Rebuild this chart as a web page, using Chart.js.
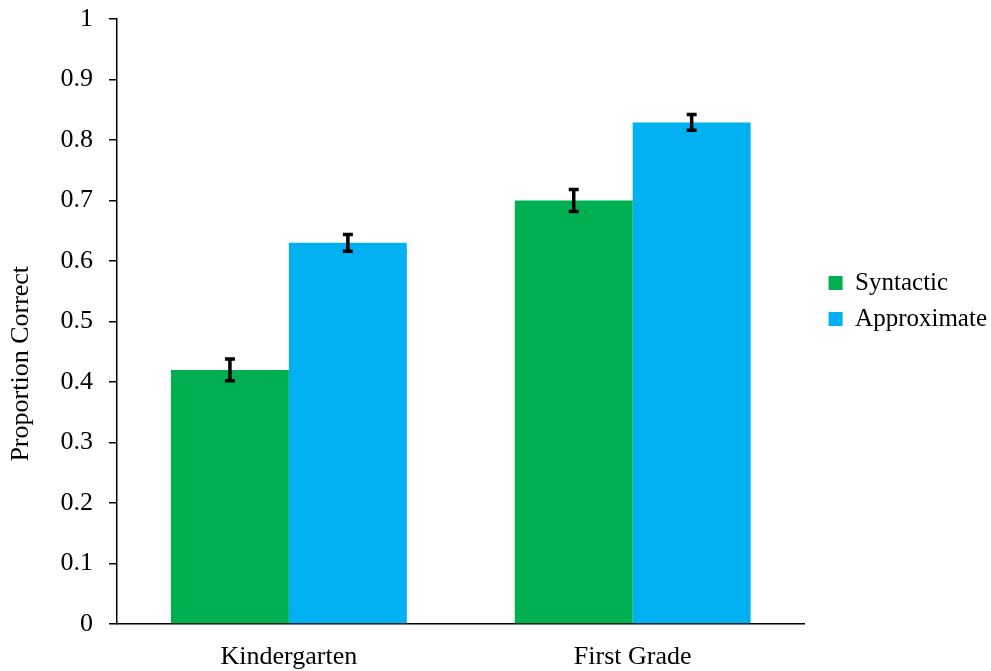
<!DOCTYPE html>
<html>
<head>
<meta charset="utf-8">
<title>Proportion Correct</title>
<script src="https://cdn.jsdelivr.net/npm/chart.js@4"></script>
<style>
  html, body { margin: 0; padding: 0; background: #fff; }
  #wrap { width: 991px; height: 671px; }
</style>
</head>
<body>
<div id="wrap"><canvas id="myChart" width="991" height="671"></canvas></div>
<script>
// data
const grades = ['Kindergarten', 'First Grade'];
const syntactic = [0.42, 0.70];
const syntacticErr = [0.018, 0.018];
const approximate = [0.63, 0.829];
const approximateErr = [0.014, 0.013];
const yTicks = [0, 0.1, 0.2, 0.3, 0.4, 0.5, 0.6, 0.7, 0.8, 0.9, 1];

const serif = "'Liberation Serif', 'Times New Roman', serif";

// error bars drawn on top of each bar
const errorBars = {
  id: 'errorBars',
  afterDatasetsDraw(chart) {
    const ctx = chart.ctx;
    const y = chart.scales.y;
    chart.data.datasets.forEach((ds, i) => {
      const meta = chart.getDatasetMeta(i);
      meta.data.forEach((bar, j) => {
        const v = ds.data[j];
        const e = ds.errors[j];
        const top = y.getPixelForValue(v + e);
        const bot = y.getPixelForValue(v - e);
        ctx.save();
        ctx.strokeStyle = '#000';
        ctx.lineWidth = 3.5;
        ctx.beginPath();
        ctx.moveTo(bar.x, top);
        ctx.lineTo(bar.x, bot);
        ctx.moveTo(bar.x - 5, top);
        ctx.lineTo(bar.x + 5, top);
        ctx.moveTo(bar.x - 5, bot);
        ctx.lineTo(bar.x + 5, bot);
        ctx.stroke();
        ctx.restore();
      });
    });
  }
};

// legend sits higher and a little away from the plot
const legendNudge = {
  id: 'legendNudge',
  afterLayout(chart) {
    const l = chart.legend;
    l.left += 13; l.right += 13;
    l.top -= 44; l.bottom -= 44;
  }
};

Chart.defaults.font.family = serif;
Chart.defaults.color = '#000';

const chart = new Chart(document.getElementById('myChart'), {
  type: 'bar',
  data: {
    labels: grades,
    datasets: [
      {
        label: 'Syntactic',
        data: syntactic,
        errors: syntacticErr,
        backgroundColor: '#00B050',
        borderWidth: 0,
      },
      {
        label: 'Approximate',
        data: approximate,
        errors: approximateErr,
        backgroundColor: '#00B0F0',
        borderWidth: 0,
      },
    ],
  },
  options: {
    responsive: false,
    animation: false,
    layout: {
      padding: { top: 19, right: 7, bottom: 0, left: 0 },
    },
    categoryPercentage: 0.686,
    barPercentage: 1.0,
    plugins: {
      legend: {
        position: 'right',
        labels: {
          boxWidth: 14,
          boxHeight: 14,
          padding: 11,
          font: { size: 25, family: serif },
          color: '#000',
        },
      },
      tooltip: { enabled: false },
    },
    scales: {
      x: {
        grid: { display: false, drawTicks: false },
        border: { display: true, color: '#000', width: 1.5 },
        ticks: { font: { size: 26 }, padding: 18, color: '#000' },
        afterFit: function (scale) { scale.height = 47; },
      },
      y: {
        min: 0,
        max: 1,
        afterBuildTicks: function (scale) {
          scale.ticks = yTicks.map(v => ({ value: v }));
        },
        grid: {
          display: true,
          drawOnChartArea: false,
          drawTicks: true,
          tickLength: 8,
          color: '#000',
          lineWidth: 1.5,
        },
        border: { display: true, color: '#000', width: 1.5 },
        ticks: {
          font: { size: 26 },
          padding: 16,
          color: '#000',
          callback: function (value) { return String(value); },
        },
        title: {
          display: true,
          text: 'Proportion Correct' + '\u00a0'.repeat(13),
          font: { size: 26 },
          color: '#000',
          padding: { top: 6, bottom: 0 },
        },
        afterFit: function (scale) {
          scale.width = 117;
          scale.paddingTop = 0;
          scale.paddingBottom = 0;
        },
      },
    },
  },
  plugins: [errorBars, legendNudge],
});
</script>
</body>
</html>
